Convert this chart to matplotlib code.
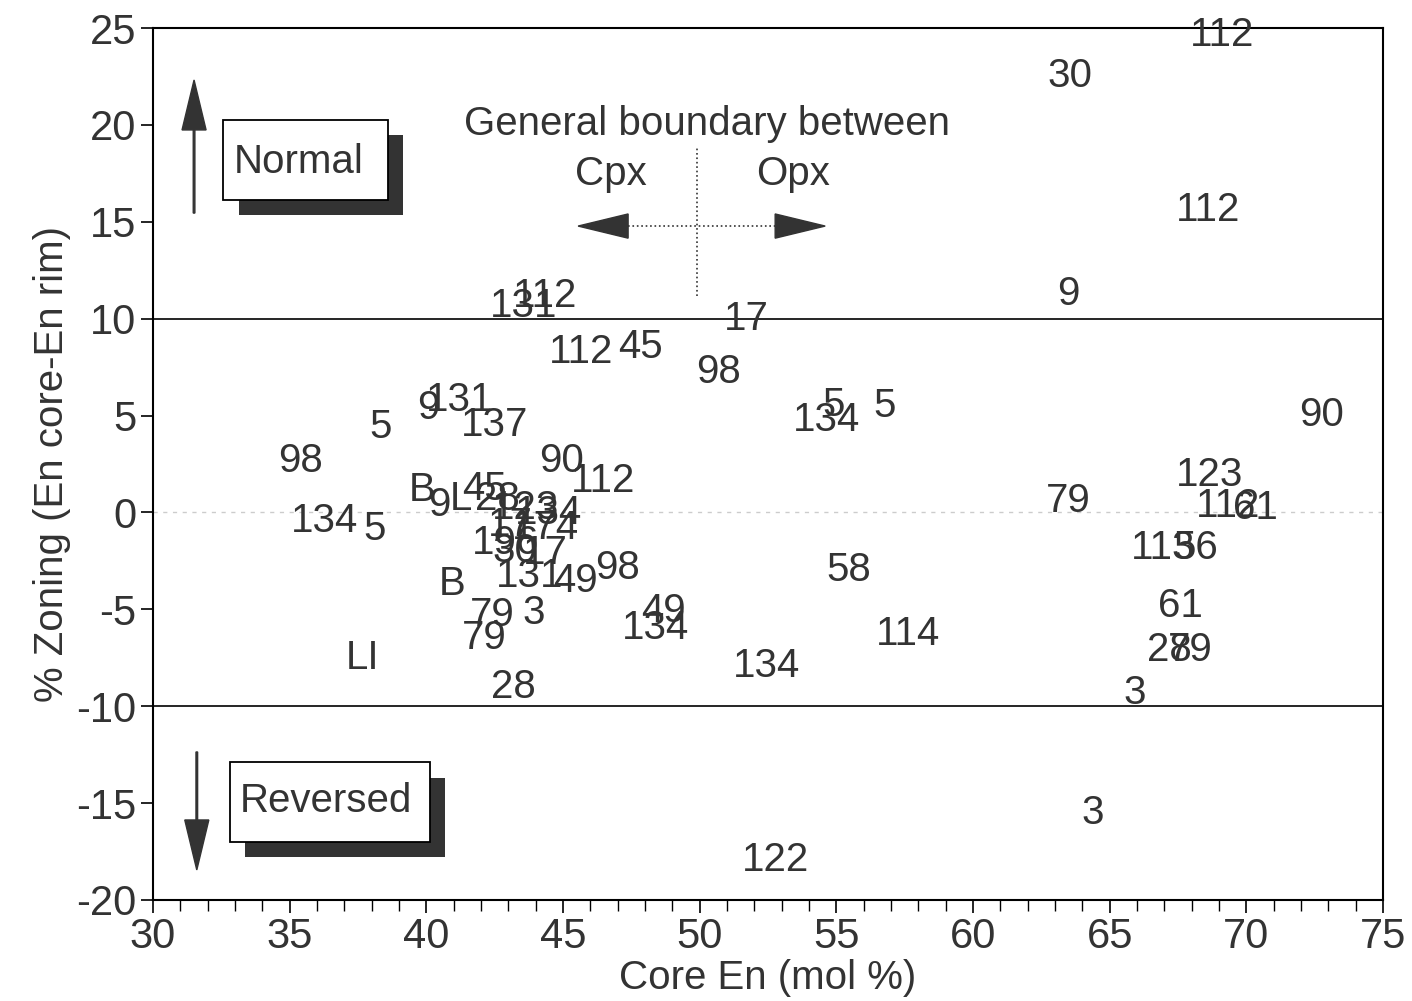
import matplotlib
matplotlib.use("Agg")
import matplotlib.pyplot as plt
from matplotlib.patches import Rectangle, FancyArrow
from matplotlib.ticker import MultipleLocator
from matplotlib.transforms import offset_copy

plt.rcParams['font.family'] = ['Liberation Sans', 'DejaVu Sans']
plt.rcParams['axes.unicode_minus'] = False

# sample labels plotted at (core En, zoning)
samples = ["112", "30", "112", "9", "90", "123", "112", "61", "79", "113", "56",
           "61", "28", "79", "3", "3", "122", "114", "134", "58", "134", "5", "5",
           "17", "98", "112", "45", "131", "112", "9", "131", "137", "5", "98",
           "134", "5", "LI", "B", "B", "9", "L", "45", "28", "123", "134", "174",
           "17", "196", "30", "17", "131", "49", "98", "90", "112", "79", "3",
           "79", "28", "49", "134"]
core_en = [69.1, 63.55, 68.6, 63.5, 72.74, 68.67, 69.33, 70.32, 63.5, 66.96, 68.13,
           67.58, 67.18, 67.95, 65.93, 64.36, 52.76, 57.62, 52.43, 55.47, 54.62, 54.88, 56.75,
           51.7, 50.67, 45.66, 47.82, 43.54, 44.34, 40.06, 41.23, 42.51, 38.31, 35.38,
           36.26, 38.12, 37.65, 40.94, 39.84, 40.46, 41.27, 42.11, 42.59, 43.61, 44.45, 44.34,
           43.06, 42.88, 43.24, 44.34, 43.79, 45.44, 46.98, 44.96, 46.46, 42.40, 43.94,
           42.11, 43.17, 48.66, 48.40]
zoning = [24.8, 22.7, 15.76, 11.43, 5.19, 2.09, 0.5, 0.39, 0.75, -1.68, -1.68,
          -4.67, -6.94, -6.94, -9.16, -15.35, -17.78, -6.11, -7.77, -2.81, 4.93, 5.70, 5.65,
          10.14, 7.40, 8.44, 8.69, 10.81, 11.33, 5.55, 5.96, 4.67, 4.57, 2.81,
          -0.28, -0.70, -7.36, -3.54, 1.31, 0.54, 0.85, 1.36, 0.85, 0.385, 0.13, -0.65,
          -0.49, -1.42, -1.83, -1.94, -3.12, -3.38, -2.71, 2.81, 1.78, -5.14, -5.03,
          -6.32, -8.85, -4.93, -5.81]

ink = '#333333'
fs = 29

fig = plt.figure(figsize=(14.12, 10.01), dpi=100)
ax = fig.add_axes([0.1084, 0.1009, 0.8711, 0.8711])
ax.set_xlim(30, 75)
ax.set_ylim(-20, 25)

# text centres sit a touch low in the original
tr = offset_copy(ax.transData, fig=fig, x=0, y=-3, units='dots')

for s, x, y in zip(samples, core_en, zoning):
    ax.text(x, y, s, ha='center', va='center', fontsize=fs, color=ink, transform=tr)

# limits of normal / reversed zoning and faint zero line
ax.axhline(10, color='black', lw=1.2)
ax.axhline(-10, color='black', lw=1.2)
ax.axhline(0, color='#cccccc', lw=1.0, ls=(0, (3, 4)))

# Cpx / Opx boundary marker
ax.text(50.27, 20.2, "General boundary between", ha='center', va='center', fontsize=fs, color=ink, transform=tr)
ax.text(46.76, 17.62, "Cpx", ha='center', va='center', fontsize=fs, color=ink, transform=tr)
ax.text(53.42, 17.62, "Opx", ha='center', va='center', fontsize=fs, color=ink, transform=tr)
ax.plot([49.9, 49.9], [11.17, 18.8], color=ink, lw=1.2, ls=':')
ax.plot([47.38, 52.76], [14.78, 14.78], color=ink, lw=1.2, ls=':')
ax.add_patch(FancyArrow(47.38, 14.78, -1.83, 0, width=0, head_width=1.25, head_length=1.83,
                        length_includes_head=True, color=ink))
ax.add_patch(FancyArrow(52.76, 14.78, 1.83, 0, width=0, head_width=1.25, head_length=1.83,
                        length_includes_head=True, color=ink))

# Normal / Reversed arrows
ax.add_patch(FancyArrow(31.5, 15.45, 0, 6.87, width=0.06, head_width=0.88, head_length=2.58,
                        length_includes_head=True, color=ink))
ax.add_patch(FancyArrow(31.6, -12.36, 0, -6.09, width=0.06, head_width=0.88, head_length=2.58,
                        length_includes_head=True, color=ink))

# shadowed boxes
ax.add_patch(Rectangle((33.15, 15.35), 6.0, 4.13, facecolor=ink, edgecolor='none', zorder=3))
ax.add_patch(Rectangle((32.56, 16.12), 6.04, 4.13, facecolor='white', edgecolor='black', lw=1.3, zorder=4))
ax.text(35.34, 18.22, "Normal", ha='center', va='center', fontsize=fs, color=ink, zorder=5, transform=tr)
ax.add_patch(Rectangle((33.36, -17.78), 7.32, 4.08, facecolor=ink, edgecolor='none', zorder=3))
ax.add_patch(Rectangle((32.81, -17.0), 7.32, 4.12, facecolor='white', edgecolor='black', lw=1.3, zorder=4))
ax.text(36.33, -14.74, "Reversed", ha='center', va='center', fontsize=fs, color=ink, zorder=5, transform=tr)

ax.xaxis.set_major_locator(MultipleLocator(5))
ax.xaxis.set_minor_locator(MultipleLocator(1))
ax.yaxis.set_major_locator(MultipleLocator(5))
ax.tick_params(axis='both', which='major', direction='out', length=9, width=1.2,
               labelsize=30, colors='black', labelcolor=ink, pad=3)
ax.tick_params(axis='x', which='minor', direction='out', length=8, width=1.0)
for sp in ax.spines.values():
    sp.set_linewidth(1.5)

ax.set_xlabel("Core En (mol %)", fontsize=29, color=ink, labelpad=2)
ax.set_ylabel("% Zoning (En core-En rim)", fontsize=29, color=ink, labelpad=4)

fig.savefig("out.png", dpi=100)
